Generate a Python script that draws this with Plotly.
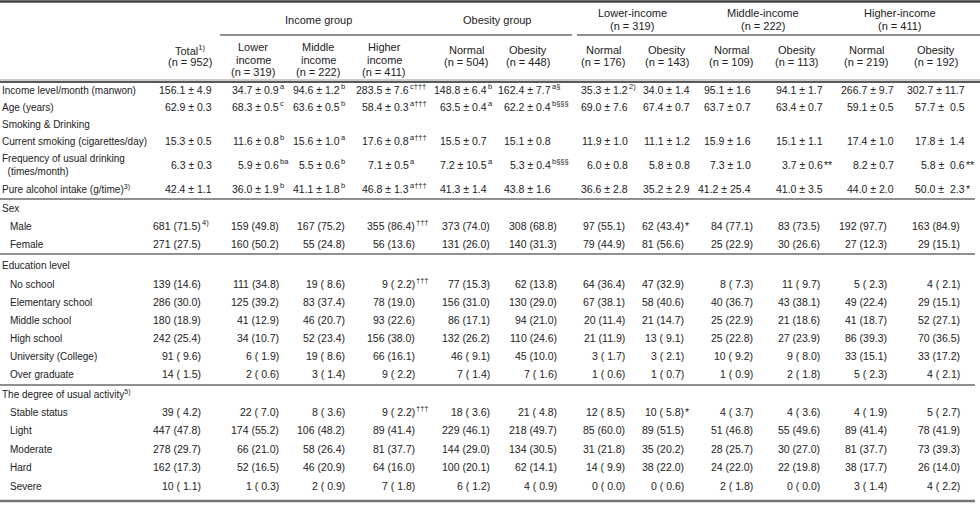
import plotly.graph_objects as go

# body row labels (section headers carry no values)
row_labels = [
    "Income level/month (manwon)",
    "Age (years)",
    "Smoking & Drinking",
    "Current smoking (cigarettes/day)",
    "Frequency of usual drinking|  (times/month)",
    "Pure alcohol intake (g/time)<sup>3)</sup>",
    "Sex",
    "Male",
    "Female",
    "Education level",
    "No school",
    "Elementary school",
    "Middle school",
    "High school",
    "University (College)",
    "Over graduate",
    "The degree of usual activity<sup>5)</sup>",
    "Stable status",
    "Light",
    "Moderate",
    "Hard",
    "Severe",
]
indented = [7, 8, 10, 11, 12, 13, 14, 15, 17, 18, 19, 20, 21]
mean_rows = [0, 1, 3, 4, 5]

# cell values, "^" separates the footnote / significance mark
total = ["156.1 ± 4.9", "62.9 ± 0.3", None, "15.3 ± 0.5", "6.3 ± 0.3", "42.4 ± 1.1", None,
         "681 (71.5)^4)", "271 (27.5)", None, "139 (14.6)", "286 (30.0)", "180 (18.9)", "242 (25.4)",
         "91 ( 9.6)", "14 ( 1.5)", None, "39 ( 4.2)", "447 (47.8)", "278 (29.7)", "162 (17.3)", "10 ( 1.1)"]
inc_lower = ["34.7 ± 0.9^a", "68.3 ± 0.5^c", None, "11.6 ± 0.8^b", "5.9 ± 0.6^ba", "36.0 ± 1.9^b", None,
             "159 (49.8)", "160 (50.2)", None, "111 (34.8)", "125 (39.2)", "41 (12.9)", "34 (10.7)",
             "6 ( 1.9)", "2 ( 0.6)", None, "22 ( 7.0)", "174 (55.2)", "66 (21.0)", "52 (16.5)", "1 ( 0.3)"]
inc_middle = ["94.6 ± 1.2^b", "63.6 ± 0.5^b", None, "15.6 ± 1.0^a", "5.5 ± 0.6^b", "41.1 ± 1.8^b", None,
              "167 (75.2)", "55 (24.8)", None, "19 ( 8.6)", "83 (37.4)", "46 (20.7)", "52 (23.4)",
              "19 ( 8.6)", "3 ( 1.4)", None, "8 ( 3.6)", "106 (48.2)", "58 (26.4)", "46 (20.9)", "2 ( 0.9)"]
inc_higher = ["283.5 ± 7.6^c†††", "58.4 ± 0.3^a†††", None, "17.6 ± 0.8^a†††", "7.1 ± 0.5^a", "46.8 ± 1.3^a†††", None,
              "355 (86.4)^†††", "56 (13.6)", None, "9 ( 2.2)^†††", "78 (19.0)", "93 (22.6)", "156 (38.0)",
              "66 (16.1)", "9 ( 2.2)", None, "9 ( 2.2)^†††", "89 (41.4)", "81 (37.7)", "64 (16.0)", "7 ( 1.8)"]
ob_normal = ["148.8 ± 6.4^b", "63.5 ± 0.4^a", None, "15.5 ± 0.7", "7.2 ± 10.5^a", "41.3 ± 1.4", None,
             "373 (74.0)", "131 (26.0)", None, "77 (15.3)", "156 (31.0)", "86 (17.1)", "132 (26.2)",
             "46 ( 9.1)", "7 ( 1.4)", None, "18 ( 3.6)", "229 (46.1)", "144 (29.0)", "100 (20.1)", "6 ( 1.2)"]
ob_obesity = ["162.4 ± 7.7^a§", "62.2 ± 0.4^b§§§", None, "15.1 ± 0.8", "5.3 ± 0.4^b§§§", "43.8 ± 1.6", None,
              "308 (68.8)", "140 (31.3)", None, "62 (13.8)", "130 (29.0)", "94 (21.0)", "110 (24.6)",
              "45 (10.0)", "7 ( 1.6)", None, "21 ( 4.8)", "218 (49.7)", "134 (30.5)", "62 (14.1)", "4 ( 0.9)"]
low_normal = ["35.3 ± 1.2^2)", "69.0 ± 7.6", None, "11.9 ± 1.0", "6.0 ± 0.8", "36.6 ± 2.8", None,
              "97 (55.1)", "79 (44.9)", None, "64 (36.4)", "67 (38.1)", "20 (11.4)", "21 (11.9)",
              "3 ( 1.7)", "1 ( 0.6)", None, "12 ( 8.5)", "85 (60.0)", "31 (21.8)", "14 ( 9.9)", "0 ( 0.0)"]
low_obesity = ["34.0 ± 1.4", "67.4 ± 0.7", None, "11.1 ± 1.2", "5.8 ± 0.8", "35.2 ± 2.9", None,
               "62 (43.4)^*", "81 (56.6)", None, "47 (32.9)", "58 (40.6)", "21 (14.7)", "13 ( 9.1)",
               "3 ( 2.1)", "1 ( 0.7)", None, "10 ( 5.8)^*", "89 (51.5)", "35 (20.2)", "38 (22.0)", "0 ( 0.6)"]
mid_normal = ["95.1 ± 1.6", "63.7 ± 0.7", None, "15.9 ± 1.6", "7.3 ± 1.0", "41.2 ± 25.4", None,
              "84 (77.1)", "25 (22.9)", None, "8 ( 7.3)", "40 (36.7)", "25 (22.9)", "25 (22.8)",
              "10 ( 9.2)", "1 ( 0.9)", None, "4 ( 3.7)", "51 (46.8)", "28 (25.7)", "24 (22.0)", "2 ( 1.8)"]
mid_obesity = ["94.1 ± 1.7", "63.4 ± 0.7", None, "15.1 ± 1.1", "3.7 ± 0.6^**", "41.0 ± 3.5", None,
               "83 (73.5)", "30 (26.6)", None, "11 ( 9.7)", "43 (38.1)", "21 (18.6)", "27 (23.9)",
               "9 ( 8.0)", "2 ( 1.8)", None, "4 ( 3.6)", "55 (49.6)", "30 (27.0)", "22 (19.8)", "0 ( 0.0)"]
high_normal = ["266.7 ± 9.7", "59.1 ± 0.5", None, "17.4 ± 1.0", "8.2 ± 0.7", "44.0 ± 2.0", None,
               "192 (97.7)", "27 (12.3)", None, "5 ( 2.3)", "49 (22.4)", "41 (18.7)", "86 (39.3)",
               "33 (15.1)", "5 ( 2.3)", None, "4 ( 1.9)", "89 (41.4)", "81 (37.7)", "38 (17.7)", "3 ( 1.4)"]
high_obesity = ["302.7 ± 11.7", "57.7 ±  0.5", None, "17.8 ±  1.4", "5.8 ±  0.6^**", "50.0 ±  2.3^*", None,
                "163 (84.9)", "29 (15.1)", None, "4 ( 2.1)", "29 (15.1)", "52 (27.1)", "70 (36.5)",
                "33 (17.2)", "4 ( 2.1)", None, "5 ( 2.7)", "78 (41.9)", "73 (39.3)", "26 (14.0)", "4 ( 2.2)"]

columns = [total, inc_lower, inc_middle, inc_higher, ob_normal, ob_obesity,
           low_normal, low_obesity, mid_normal, mid_obesity, high_normal, high_obesity]

# headers ("|" = line break)
sub_headers = ["Total<sup>1)</sup>|(n = 952)",
               "Lower|income|(n = 319)", "Middle|income|(n = 222)", "Higher|income|(n = 411)",
               "Normal|(n = 504)", "Obesity|(n = 448)",
               "Normal|(n = 176)", "Obesity|(n = 143)",
               "Normal|(n = 109)", "Obesity|(n = 113)",
               "Normal|(n = 219)", "Obesity|(n = 192)"]
group_headers = ["Income group", "Obesity group",
                 "Lower-income|(n = 319)", "Middle-income|(n = 222)", "Higher-income|(n = 411)"]

# layout geometry (pixels)
W, H = 980, 506
FONT = "Liberation Sans"
INK = "#222"
col_center = [190, 253, 318, 384, 466, 528, 603, 667, 731, 797, 866, 936]
mean_right = [212, 279, 340, 409, 487, 551, 628, 690, 751, 823, 894, 965]
count_right = [201, 279, 345, 415, 490, 557, 625, 684, 753, 820, 887, 960]
group_center = [318, 497, 632, 763, 900]
row_y = [90, 107, 124, 141, 165, 189, 208, 226, 244, 265, 284, 302, 320, 338, 356, 374,
         394, 412, 430, 449, 467, 486]
LINE_GAP = 12.5
VAL_SIZE = 10.5

fig = go.Figure()
ann = []


def txt(x, y, s, anchor="left", size=10, yshift=0):
    ann.append(dict(x=x, y=y, text=s, xanchor=anchor, yanchor="middle", showarrow=False,
                    borderpad=0, borderwidth=0,
                    font=dict(family=FONT, size=size, color=INK), yshift=yshift))


def block(x, y_mid, s, anchor="center", size=11):
    parts = s.split("|")
    top = y_mid - LINE_GAP * (len(parts) - 1) / 2
    for k, p in enumerate(parts):
        txt(x, top + k * LINE_GAP, p.replace("  ", "\u00a0\u00a0"), anchor, size)


# header
block(group_center[0], 20, group_headers[0])
block(group_center[1], 20, group_headers[1])
for i in range(2, 5):
    block(group_center[i], 19.5, group_headers[i])
for i, s in enumerate(sub_headers):
    block(col_center[i], 59.5 if s.count("|") == 2 else 56, s)

# body
for r, lab in enumerate(row_labels):
    x0 = 10 if r in indented else 2
    block(x0, row_y[r], lab, "left", 10)
    for c, col in enumerate(columns):
        v = col[r]
        if v is None:
            continue
        base, _, mark = v.partition("^")
        right = mean_right[c] if r in mean_rows else count_right[c]
        txt(right, row_y[r], base.replace(" ", "\u00a0"), "right", VAL_SIZE)
        if mark:
            if mark.startswith("*"):
                txt(right + 0.5, row_y[r], mark, "left", VAL_SIZE)
            else:
                txt(right + 0.5, row_y[r], mark, "left", 7.5, yshift=4)

fig.update_layout(annotations=ann)

# rules
lines = [
    (0, 980, 1.5, 2.5, "#444"),
    (220, 572, 35, 1.2, "#222"),
    (577, 980, 35, 1.2, "#222"),
    (0, 980, 80, 1, "#999"),
    (0, 980, 82, 1.6, "#222"),
    (0, 975, 199, 1.2, "#222"),
    (0, 975, 254, 1.2, "#222"),
    (0, 975, 385, 1.2, "#222"),
    (0, 975, 501, 2.5, "#777"),
]
for x0, x1, y, w, c in lines:
    fig.add_shape(type="line", x0=x0, x1=x1, y0=y, y1=y, xref="x", yref="y",
                  line=dict(color=c, width=w))

fig.update_xaxes(range=[0, W], visible=False, fixedrange=True)
fig.update_yaxes(range=[H, 0], visible=False, fixedrange=True)
fig.update_layout(width=W, height=H, margin=dict(l=0, r=0, t=0, b=0),
                  plot_bgcolor="white", paper_bgcolor="white", showlegend=False)

# drop the default page margin so the figure sits at the window's corner
fig.write_html("out.html", config={"displayModeBar": False},
               post_script="document.body.style.margin='0';")
